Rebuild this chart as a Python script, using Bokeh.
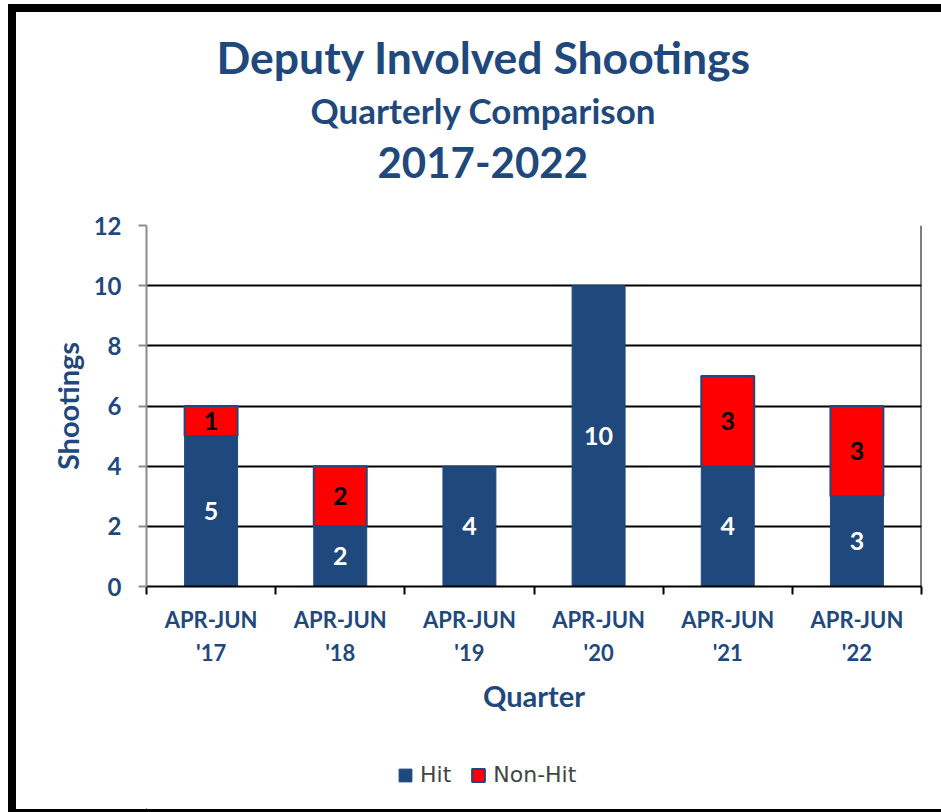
from bokeh.plotting import figure
from bokeh.layouts import column
from bokeh.models import Range1d, FixedTicker, Legend, LegendItem, Span, Title, LinearAxis
from bokeh.embed import file_html
from bokeh.resources import INLINE
from bokeh.core.properties import value

# ---- data ----
quarters = ["APR-JUN\n'17", "APR-JUN\n'18", "APR-JUN\n'19", "APR-JUN\n'20", "APR-JUN\n'21", "APR-JUN\n'22"]
hit = [5, 2, 4, 10, 4, 3]
non_hit = [1, 2, 0, 0, 3, 3]
y_ticks = [0, 2, 4, 6, 8, 10, 12]
title_lines = ["Deputy Involved Shootings", "Quarterly Comparison", "2017-2022"]
series_names = ["Hit", "Non-Hit"]

NAVY = "#1F497D"
RED = "#FF0000"
FONT = "Lato"

W = 925
H_MAIN, H_LEG = 740, 57
ML, MR, MT, MB = 130, 20, 213, 166

p = figure(width=W, height=H_MAIN, output_backend="svg", toolbar_location=None,
           x_range=Range1d(0, 6), y_range=Range1d(0, 12),
           min_border_left=ML, min_border_right=MR, min_border_top=MT, min_border_bottom=MB,
           background_fill_color="white", border_fill_color="white")

xs = [i + 0.5 for i in range(len(quarters))]
nx = [x for x, n in zip(xs, non_hit) if n > 0]
nb = [h for h, n in zip(hit, non_hit) if n > 0]
nt = [h + n for h, n in zip(hit, non_hit) if n > 0]
nv = [n for n in non_hit if n > 0]

hit_style = dict(fill_color=NAVY, line_color=NAVY, line_width=1)
non_style = dict(fill_color=RED, line_color=NAVY, line_width=2)

p.vbar(x=xs, width=0.41, bottom=0, top=hit, **hit_style)
p.vbar(x=nx, width=0.41, bottom=nb, top=nt, **non_style)

# value labels
p.text(x=xs, y=[h / 2 for h in hit], text=[str(h) for h in hit],
       text_align="center", text_baseline="middle", text_color="white",
       text_font=value(FONT), text_font_style="bold", text_font_size="25px")
p.text(x=nx, y=[(b + t) / 2 for b, t in zip(nb, nt)], text=[str(v) for v in nv],
       text_align="center", text_baseline="middle", text_color="black",
       text_font=value(FONT), text_font_style="bold", text_font_size="25px")

# axes
xa = p.xaxis[0]
xa.ticker = FixedTicker(ticks=xs, minor_ticks=list(range(len(quarters) + 1)))
xa.major_label_overrides = {x: q for x, q in zip(xs, quarters)}
xa.major_tick_in = 0
xa.major_tick_out = 0
xa.minor_tick_in = 0
xa.minor_tick_out = 8
xa.minor_tick_line_color = "black"
xa.minor_tick_line_width = 2
xa.axis_line_color = "black"
xa.axis_line_width = 2
xa.major_label_standoff = 11
xa.major_label_text_font = FONT
xa.major_label_text_font_style = "bold"
xa.major_label_text_font_size = "22px"
xa.major_label_text_color = NAVY
xa.major_label_text_line_height = 1.25
xa.axis_label = "Quarter"
xa.axis_label_text_font = FONT
xa.axis_label_text_font_style = "bold"
xa.axis_label_text_font_size = "29px"
xa.axis_label_text_color = NAVY
xa.axis_label_standoff = 9

ya = p.yaxis[0]
ya.ticker = FixedTicker(ticks=y_ticks)
ya.axis_line_color = "#8C8C8C"
ya.axis_line_width = 2
ya.major_tick_in = 0
ya.major_tick_out = 8
ya.major_tick_line_color = "#8C8C8C"
ya.major_tick_line_width = 2
ya.minor_tick_line_color = None
ya.major_label_standoff = 17
ya.major_label_text_font = FONT
ya.major_label_text_font_style = "bold"
ya.major_label_text_font_size = "24px"
ya.major_label_text_color = NAVY
ya.axis_label = "Shootings"
ya.axis_label_text_font = FONT
ya.axis_label_text_font_style = "bold"
ya.axis_label_text_font_size = "29px"
ya.axis_label_text_color = NAVY
ya.axis_label_standoff = 6

p.xgrid.visible = False
p.ygrid.grid_line_color = "black"
p.ygrid.grid_line_width = 2
p.outline_line_color = None
p.add_layout(Span(location=6, dimension="height", line_color="black", line_width=2))

# spacer between plot area and the title block (blank axis: one white tick, empty label)
spacer = LinearAxis(ticker=FixedTicker(ticks=[3]), major_label_overrides={3: ""},
                    axis_line_color=None, major_tick_in=0, major_tick_out=35,
                    minor_tick_out=0, major_label_standoff=0, major_label_text_font_size="1px",
                    major_tick_line_color="white")
p.add_layout(spacer, "above")

# title block, innermost first
title_specs = [(title_lines[2], "42px", 231, 24), (title_lines[1], "35px", 164, 4), (title_lines[0], "44.5px", 70, 4)]
for txt, fs, off, so in title_specs:
    p.add_layout(Title(text=txt, align="left", offset=off, vertical_align="middle", standoff=so,
                       text_font=FONT, text_font_style="bold", text_font_size=fs, text_color=NAVY), "above")

# legend strip below the chart; its proxy renderers are zero-size and outside its own view
p2 = figure(width=W, height=H_LEG, output_backend="svg", toolbar_location=None,
            x_range=Range1d(100, 106), y_range=Range1d(100, 112), x_axis_type=None, y_axis_type=None,
            min_border=0, outline_line_color=None,
            background_fill_color="white", border_fill_color="white")
lr_hit = p2.vbar(x=xs, width=0, bottom=hit, top=hit, **hit_style)
lr_non = p2.vbar(x=nx, width=0, bottom=nt, top=nt, **non_style)
legend = Legend(items=[LegendItem(label=series_names[0], renderers=[lr_hit]),
                       LegendItem(label=series_names[1], renderers=[lr_non])],
                orientation="horizontal", location=(251, 22),
                glyph_width=16, glyph_height=16, label_standoff=7, spacing=19,
                label_text_font="DejaVu Sans", label_text_font_size="22px", label_height=16,
                padding=0, margin=0, border_line_color=None, background_fill_alpha=0)
p2.add_layout(legend, "center")

layout = column(p, p2, spacing=0,
                styles={"border-left": "8px solid black", "border-top": "8px solid black",
                        "border-bottom": "3px solid black", "margin-left": "8px", "margin-top": "4px",
                        "background-color": "white"})

open("out.html", "w").write(file_html(layout, INLINE))
